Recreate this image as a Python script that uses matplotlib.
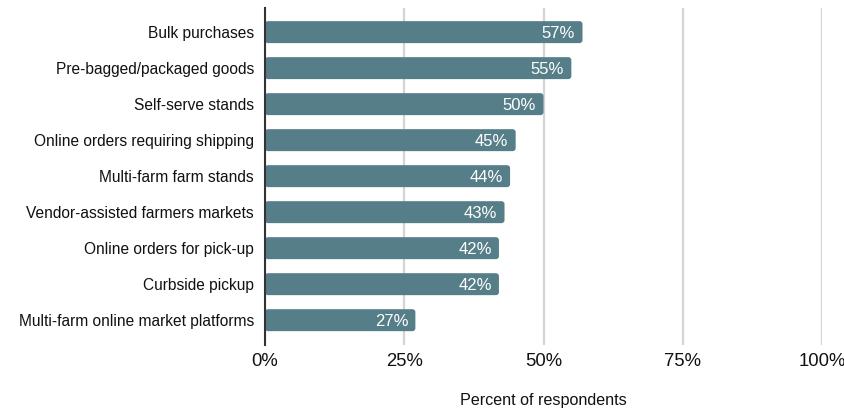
import matplotlib
matplotlib.use("Agg")
import matplotlib.pyplot as plt
from matplotlib.patches import FancyBboxPatch

plt.rcParams["font.family"] = ["Liberation Sans", "DejaVu Sans"]

categories = [
    "Bulk purchases",
    "Pre-bagged/packaged goods",
    "Self-serve stands",
    "Online orders requiring shipping",
    "Multi-farm farm stands",
    "Vendor-assisted farmers markets",
    "Online orders for pick-up",
    "Curbside pickup",
    "Multi-farm online market platforms",
]
values = [57, 55, 50, 45, 44, 43, 42, 42, 27]
xticks = [0, 25, 50, 75, 100]

BAR = "#567e89"
INK = "#111111"

fig = plt.figure(figsize=(8.45, 4.13), dpi=100)
ax = fig.add_axes([0.3136, 0.1646, 0.6592, 0.816])

ypos = list(range(len(categories)))
bars = ax.barh(ypos, values, height=0.61, color=BAR, zorder=3)
ax.set_ylim(len(categories) - 1 + 0.69, -0.67)
ax.set_xlim(0, 100)

# swap plain rectangles for ones with slightly rounded corners
for b in bars:
    b.set_visible(False)
    x, y = b.get_x(), b.get_y()
    w, h = b.get_width(), b.get_height()
    ax.add_patch(FancyBboxPatch((x, y), w, h,
                                boxstyle="round,pad=0,rounding_size=0.55",
                                mutation_aspect=0.15, facecolor=BAR,
                                edgecolor="none", zorder=3))
    ax.text(x + w - 1.3, y + h / 2, f"{w:.0f}%", ha="right",
            va="center_baseline", color="white", fontsize=12, zorder=4)

ax.set_yticks(ypos)
ax.set_yticklabels(categories, fontsize=11.2, color=INK)
ax.set_xticks(xticks)
ax.set_xticklabels([f"{t}%" for t in xticks], fontsize=13.3, color=INK)
ax.tick_params(length=0)
ax.tick_params(axis="y", pad=8)
ax.tick_params(axis="x", pad=6)

ax.xaxis.grid(True, color="#d4d4d4", lw=1.6, zorder=0)
for s in ["top", "right", "bottom"]:
    ax.spines[s].set_visible(False)
ax.spines["left"].set_color("#333333")
ax.spines["left"].set_linewidth(1.5)
ax.spines["left"].set_zorder(5)

ax.set_xlabel("Percent of respondents", fontsize=11.6, color=INK, labelpad=16)

fig.savefig("out.png", dpi=100)
